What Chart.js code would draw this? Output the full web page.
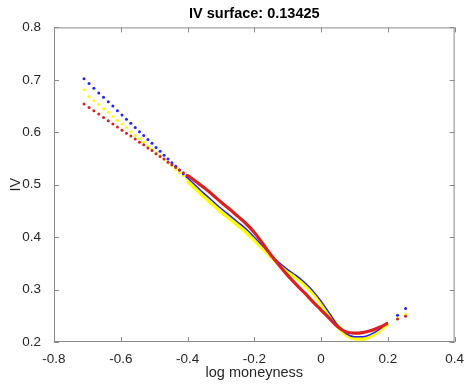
<!DOCTYPE html>
<html>
<head>
<meta charset="utf-8">
<script src="https://cdn.jsdelivr.net/npm/chart.js@4/dist/chart.umd.min.js"></script>
<style>
  html, body { margin: 0; padding: 0; background: #fff; }
</style>
</head>
<body>
<canvas id="c" width="465" height="385"></canvas>
<script>
// sparse wing, log moneyness
const dotX = [-0.710, -0.695, -0.6805, -0.666, -0.6516, -0.6375, -0.6236, -0.6099, -0.5963, -0.583,
  -0.5698, -0.5568, -0.544, -0.5313, -0.5188, -0.5065, -0.4943, -0.4822, -0.4703, -0.4585,
  -0.4469, -0.4354, -0.424, -0.4128, -0.4017];
const dotBlue = [0.702, 0.693, 0.684, 0.675, 0.667, 0.658, 0.650, 0.641, 0.633, 0.625,
  0.617, 0.609, 0.601, 0.594, 0.586, 0.579, 0.571, 0.564, 0.556, 0.549,
  0.542, 0.535, 0.528, 0.521, 0.515];
const dotYellow = [0.681, 0.668, 0.660, 0.653, 0.645, 0.638, 0.630, 0.623, 0.616, 0.609,
  0.601, 0.594, 0.588, 0.581, 0.574, 0.568, 0.561, 0.555, 0.548, 0.542,
  0.536, 0.529, 0.523, 0.517, 0.511];
const dotRed = [0.654, 0.647, 0.641, 0.635, 0.628, 0.622, 0.616, 0.610, 0.604, 0.598,
  0.593, 0.587, 0.581, 0.576, 0.570, 0.565, 0.559, 0.554, 0.549, 0.543,
  0.538, 0.533, 0.528, 0.523, 0.518];

// dense part
const curveX = [-0.400, -0.375, -0.350, -0.325, -0.300, -0.275, -0.250, -0.225, -0.200, -0.175,
  -0.150, -0.125, -0.100, -0.075, -0.050, -0.025, 0.000, 0.025, 0.050, 0.075,
  0.100, 0.125, 0.150, 0.175, 0.200];
const curveBlue = [0.513, 0.498, 0.483, 0.469, 0.455, 0.442, 0.429, 0.416, 0.400, 0.383,
  0.365, 0.351, 0.338, 0.327, 0.314, 0.298, 0.278, 0.255, 0.232, 0.216,
  0.210, 0.210, 0.215, 0.224, 0.237];
const curveYellow = [0.507, 0.492, 0.477, 0.463, 0.449, 0.436, 0.423, 0.410, 0.395, 0.379,
  0.363, 0.348, 0.335, 0.323, 0.310, 0.294, 0.274, 0.252, 0.230, 0.214,
  0.207, 0.206, 0.212, 0.222, 0.235];
const curveRed = [0.518, 0.506, 0.494, 0.481, 0.467, 0.454, 0.440, 0.426, 0.409, 0.388,
  0.366, 0.346, 0.327, 0.310, 0.294, 0.277, 0.261, 0.245, 0.229, 0.219,
  0.217, 0.218, 0.222, 0.228, 0.236];

// two points past the curve
const tailX = [0.229, 0.253];
const tailBlue = [0.251, 0.264];
const tailYellow = [0.245, 0.2525];
const tailRed = [0.244, 0.249];

const xTicks = [-0.8, -0.6, -0.4, -0.2, 0, 0.2, 0.4];
const yTicks = [0.2, 0.3, 0.4, 0.5, 0.6, 0.7, 0.8];

const BLUE = '#2323ff', YELLOW = '#ffff00', RED = '#dc2020';
const pts = (xs, ys) => xs.map((x, i) => ({ x: x, y: ys[i] }));

const dots = (xs, ys, color, order) => ({
  data: pts(xs, ys), showLine: false, order: order,
  pointRadius: 1.5, pointBackgroundColor: color, pointBorderWidth: 0
});
const curve = (ys, color, width, order) => ({
  data: pts(curveX, ys), showLine: true, order: order, pointRadius: 0,
  borderColor: color, borderWidth: width, cubicInterpolationMode: 'monotone'
});

// matlab style box with inward ticks
const boxPlugin = {
  id: 'box',
  afterDraw(chart) {
    const { ctx, chartArea: a, scales } = chart;
    ctx.save();
    ctx.strokeStyle = '#8a8a8a';
    ctx.lineWidth = 1;
    ctx.strokeRect(a.left + 0.5, a.top + 0.5, a.right - a.left - 1, a.bottom - a.top - 1);
    ctx.beginPath();
    xTicks.forEach(v => {
      const p = Math.round(scales.x.getPixelForValue(v)) + 0.5;
      ctx.moveTo(p, a.bottom); ctx.lineTo(p, a.bottom - 5);
      ctx.moveTo(p, a.top); ctx.lineTo(p, a.top + 5);
    });
    yTicks.forEach(v => {
      const p = Math.round(scales.y.getPixelForValue(v)) + 0.5;
      ctx.moveTo(a.left, p); ctx.lineTo(a.left + 5, p);
      ctx.moveTo(a.right, p); ctx.lineTo(a.right - 5, p);
    });
    ctx.stroke();
    ctx.restore();
  }
};

const fmt = v => String(Math.round(v * 10) / 10);
const family = 'Liberation Sans, Arial, sans-serif';
const font = { family: family, size: 13.5 };

new Chart(document.getElementById('c'), {
  type: 'scatter',
  data: {
    datasets: [
      curve(curveRed, RED, 3.2, 1),
      dots(dotX, dotRed, RED, 1),
      dots(tailX, tailRed, RED, 1),
      curve(curveBlue, BLUE, 1.4, 2),
      dots(dotX, dotBlue, BLUE, 2),
      dots(tailX, tailBlue, BLUE, 2),
      curve(curveYellow, YELLOW, 4, 3),
      dots(dotX, dotYellow, YELLOW, 3),
      dots(tailX, tailYellow, YELLOW, 3)
    ]
  },
  options: {
    responsive: false,
    animation: false,
    layout: { padding: { right: 10 } },
    plugins: {
      legend: { display: false },
      tooltip: { enabled: false },
      title: {
        display: true, fullSize: false,
        text: 'IV surface: 0.13425', color: '#000',
        font: { family: family, size: 14.5, weight: 'bold' },
        padding: { top: 5, bottom: 5 }
      }
    },
    scales: {
      x: {
        type: 'linear', min: -0.8, max: 0.4,
        grid: { display: false }, border: { display: false },
        afterFit: s => { s.height = 43; },
        afterBuildTicks: s => { s.ticks = xTicks.map(v => ({ value: v })); },
        ticks: { color: '#262626', font: font, padding: 1, callback: fmt, maxRotation: 0 },
        title: { display: true, text: 'log moneyness', color: '#262626', font: { family: family, size: 14.5 }, padding: { top: 0, bottom: 3 } }
      },
      y: {
        type: 'linear', min: 0.2, max: 0.8,
        grid: { display: false }, border: { display: false },
        afterFit: s => { s.width = 54; },
        afterBuildTicks: s => { s.ticks = yTicks.map(v => ({ value: v })); },
        ticks: { color: '#262626', font: font, padding: 5, callback: fmt },
        title: { display: true, text: 'IV', color: '#262626', font: { family: family, size: 14.5 }, padding: { top: 7, bottom: 0 } }
      }
    }
  },
  plugins: [boxPlugin]
});
</script>
</body>
</html>
